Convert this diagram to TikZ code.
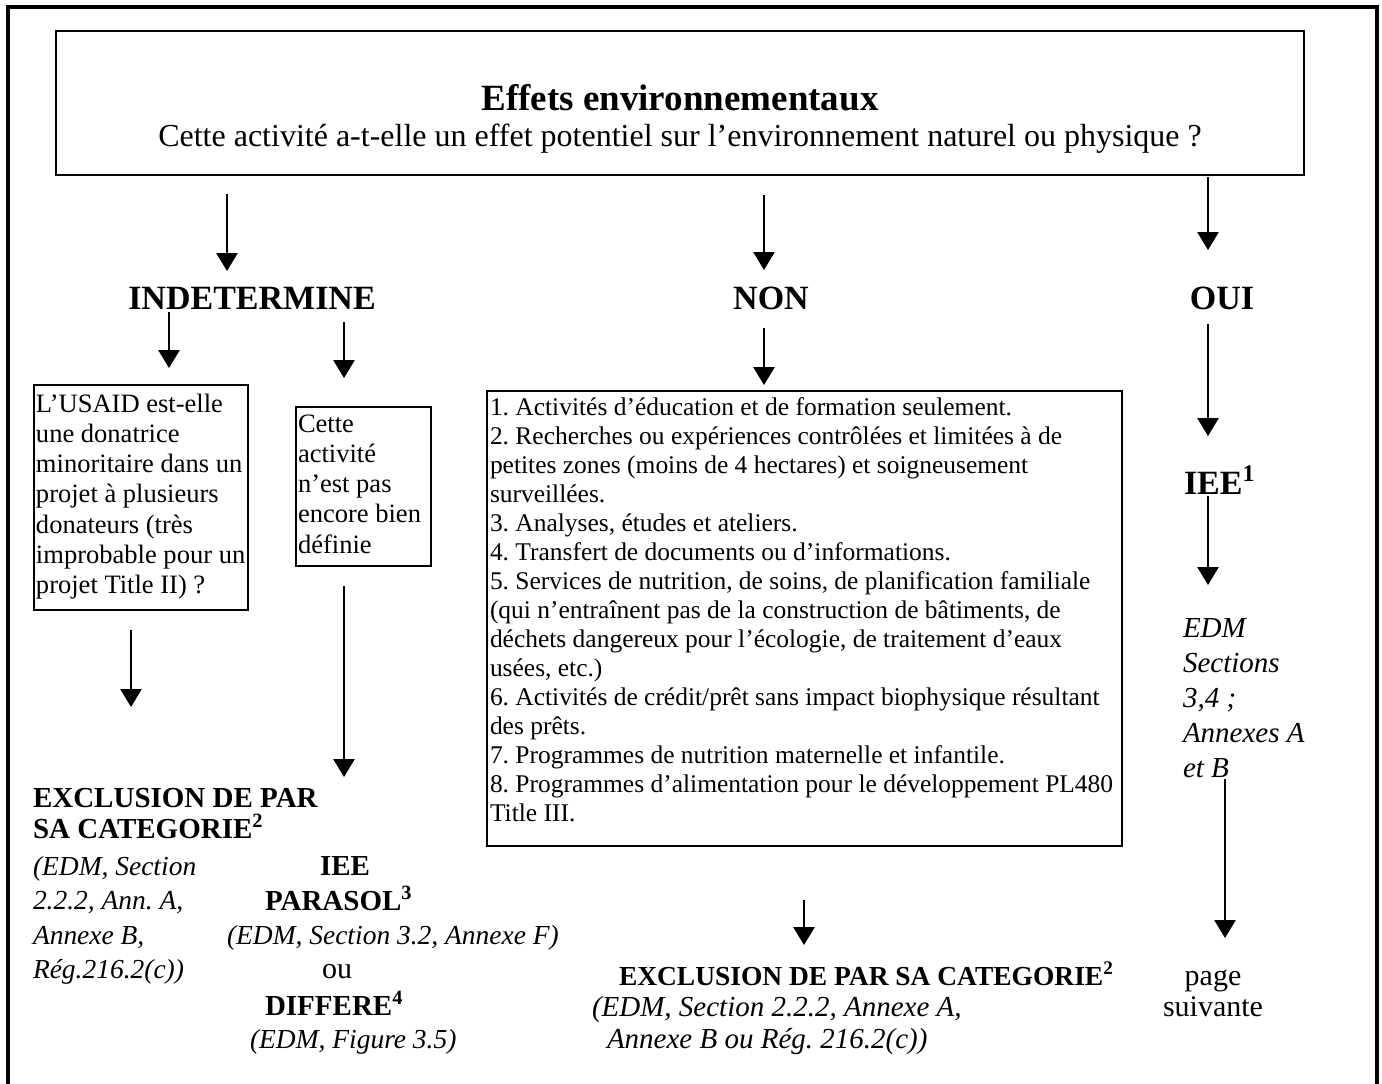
\documentclass[tikz,border=0pt]{standalone}
\usepackage{fontspec}
\setmainfont{Liberation Serif}
\usetikzlibrary{arrows.meta}
\frenchspacing
\begin{document}
\frenchspacing
\begin{tikzpicture}[x=0.75pt,y=-0.75pt,
  every node/.style={inner sep=0pt, outer sep=0pt},
  arr/.style={line width=1.2pt, -{Triangle[length=13.5pt,width=16pt]}},
  bx/.style={draw, line width=1.4pt, anchor=north west},
  ttl/.style={font=\bfseries\fontsize{27.75}{32}\selectfont},
  sub/.style={font=\fontsize{24}{28}\selectfont},
  head/.style={font=\bfseries\fontsize{25.5}{30}\selectfont},
  bt/.style={font=\fontsize{19.9}{22.7}\selectfont},
  lt/.style={font=\fontsize{19.1}{21.75}\selectfont},
  lb/.style={font=\bfseries\fontsize{21.75}{24}\selectfont},
  lbb/.style={font=\bfseries\fontsize{20.6}{24}\selectfont},
  itl/.style={font=\itshape\fontsize{20.6}{24}\selectfont},
  itb/.style={font=\itshape\fontsize{21.75}{24}\selectfont},
  rom/.style={font=\fontsize{22.5}{26}\selectfont}]
\useasboundingbox (0,0) rectangle (1382,1083);
\fill[white] (0,0) rectangle (1382,1083);
% outer frame (open at bottom)
\draw[line width=3pt] (8,1100) -- (8,7) -- (1377,7) -- (1377,1100);
% top box
\node[bx, line width=1.5pt, minimum width=936pt, minimum height=108pt] (top) at (56,31) {};
\node[ttl, anchor=base] (ttl) at (680,110) {Effets environnementaux};
\node[sub, anchor=base] (subt) at (680,146) {Cette activité a-t-elle un effet potentiel sur l’environnement naturel ou physique ?};
% headings
\node[head, anchor=base] (ind) at (252,309) {INDETERMINE};
\node[head, anchor=base] (non) at (771,309) {NON};
\node[head, anchor=base] (oui) at (1222,309) {OUI};
% boxes
\node[bx, minimum width=160.5pt, minimum height=168.75pt] (q1) at (34,385) {};
\node[bx, minimum width=101.25pt, minimum height=119.25pt] (q2) at (296,407) {};
\node[bx, minimum width=476.25pt, minimum height=341.25pt] (q3) at (487,391) {};
\foreach \t [count=\i from 0] in {{L’USAID est-elle},{une donatrice},{minoritaire dans un},{projet à plusieurs},{donateurs (très},{improbable pour un},{projet Title II) ?}}
  \node[bt, anchor=base west] (q1t\i) at (36,412+30.3*\i) {\t};
\foreach \t [count=\i from 0] in {{Cette},{activité},{n’est pas},{encore bien},{définie}}
  \node[bt, anchor=base west] (q2t\i) at (298,432+30.3*\i) {\t};
\foreach \t [count=\i from 0] in {{1. Activités d’éducation et de formation seulement.},
  {2. Recherches ou expériences contrôlées et limitées à de},
  {petites zones (moins de 4 hectares) et soigneusement},
  {surveillées.},
  {3. Analyses, études et ateliers.},
  {4. Transfert de documents ou d’informations.},
  {5. Services de nutrition, de soins, de planification familiale},
  {(qui n’entraînent pas de la construction de bâtiments, de},
  {déchets dangereux pour l’écologie, de traitement d’eaux},
  {usées, etc.)},
  {6. Activités de crédit/prêt sans impact biophysique résultant},
  {des prêts.},
  {7. Programmes de nutrition maternelle et infantile.},
  {8. Programmes d’alimentation pour le développement PL480},
  {Title III.}}
  \node[lt, anchor=base west] (q3t\i) at (490,415+29*\i) {\t};
% right column
\node[head, anchor=base west] (iee) at (1184,494) {IEE\textsuperscript{1}};
\foreach \t [count=\i from 0] in {{EDM},{Sections},{3,4 ;},{Annexes A},{et B}}
  \node[itb, anchor=base west] (edm\i) at (1183,637+35*\i) {\t};
% left column
\node[lb, anchor=base west] (ex1) at (33,807) {EXCLUSION DE PAR};
\node[lb, anchor=base west] (ex2) at (33,838) {SA CATEGORIE\textsuperscript{2}};
\foreach \t [count=\i from 0] in {{(EDM, Section},{2.2.2, Ann. A,},{Annexe B,},{Rég.216.2(c))}}
  \node[itl, anchor=base west] (lit\i) at (33,875+34.5*\i) {\t};
% middle column
\node[lb, anchor=base] (iee2) at (345,875) {IEE};
\node[lb, anchor=base west] (par) at (265,910) {PARASOL\textsuperscript{3}};
\node[itl, anchor=base west] (sec) at (227,944) {(EDM, Section 3.2, Annexe F)};
\node[rom, anchor=base] (ou) at (337,978) {ou};
\node[lb, anchor=base west] (dif) at (265,1015) {DIFFERE\textsuperscript{4}};
\node[itl, anchor=base west] (fig) at (250,1048) {(EDM, Figure 3.5)};
% bottom middle
\node[lbb, anchor=base west] (ex3) at (619,985) {EXCLUSION DE PAR SA CATEGORIE\textsuperscript{2}};
\node[itb, anchor=base west] (bi1) at (592,1016) {(EDM, Section 2.2.2, Annexe A,};
\node[itb, anchor=base west] (bi2) at (607,1048) {Annexe B ou Rég. 216.2(c))};
% page suivante
\node[rom, anchor=base] (pg) at (1213,985) {page};
\node[rom, anchor=base] (sv) at (1213,1016) {suivante};
% arrows
\coordinate (a1s) at (227,194);  \coordinate (a1e) at (227,271);
\coordinate (a2s) at (764,195);  \coordinate (a2e) at (764,270);
\coordinate (a3s) at (1208,177); \coordinate (a3e) at (1208,250);
\coordinate (a4s) at (169,312);  \coordinate (a4e) at (169,368);
\coordinate (a5s) at (344,322);  \coordinate (a5e) at (344,378);
\coordinate (a6s) at (764,328);  \coordinate (a6e) at (764,385);
\coordinate (a7s) at (1208,324); \coordinate (a7e) at (1208,436);
\coordinate (a8s) at (131,630);  \coordinate (a8e) at (131,707);
\coordinate (a9s) at (344,586);  \coordinate (a9e) at (344,777);
\coordinate (a10s) at (1208,496); \coordinate (a10e) at (1208,585);
\coordinate (a11s) at (804,900); \coordinate (a11e) at (804,945);
\coordinate (a12s) at (1225,779); \coordinate (a12e) at (1225,938);
\foreach \k in {1,...,12} \draw[arr] (a\k s) -- (a\k e);
\end{tikzpicture}
\end{document}
